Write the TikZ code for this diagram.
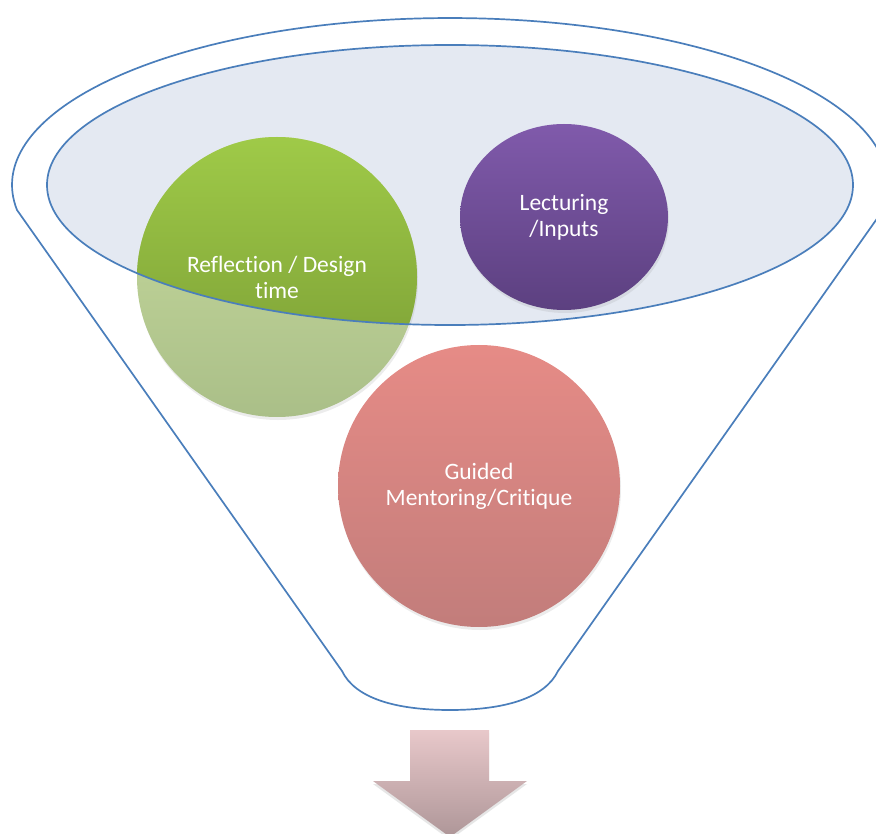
\documentclass[tikz,border=0pt]{standalone}
\usepackage{fontspec}
\setmainfont{Carlito}[Ligatures=NoCommon]
\usetikzlibrary{shapes.geometric,shadows,positioning}
\definecolor{funnelblue}{HTML}{4A7EBB}
\definecolor{bowlfill}{HTML}{E4E9F2}
\definecolor{greentop}{HTML}{9FCA48}
\definecolor{greenbot}{HTML}{779933}
\definecolor{paletop}{HTML}{CADDA0}
\definecolor{palebot}{HTML}{AABF88}
\definecolor{purpletop}{HTML}{805AAB}
\definecolor{purplebot}{HTML}{5C4080}
\definecolor{redtop}{HTML}{E68B86}
\definecolor{redbot}{HTML}{C27D7B}
\definecolor{arrowtop}{HTML}{E8C8CA}
\definecolor{arrowbot}{HTML}{AE9698}
\tikzset{
    funnel/.style={
    draw=funnelblue,line width=1.7pt,line join=round
    },
    bowl/.style={
    fill=bowlfill
    },
    bubble/.style={
    circle,minimum size=280pt,inner sep=0pt,
    drop shadow={opacity=0.15,shadow xshift=1pt,shadow yshift=-3pt}
    },
    caption/.style={
    text=white,align=center,font=\fontsize{23.5}{26}\selectfont
    },
}

\begin{document}
\begin{tikzpicture}[x=1pt,y=1pt]
   \useasboundingbox (0,0) rectangle (876,-834);
   % funnel outline
   \draw[funnel] (17,-210) arc[start angle=188.6, end angle=-8.6, x radius=438, y radius=167]
     -- (558,-671) .. controls (545,-698) and (505,-710) .. (450,-710)
     .. controls (395,-710) and (355,-698) .. (342,-671) -- cycle;
   \fill[bowl] (450,-185) ellipse [x radius=403, y radius=140];

   % bubbles
   \node[bubble,top color=paletop,bottom color=palebot] (refl) at (277,-277) {};
   \begin{scope}
     \clip (450,-185) ellipse [x radius=403, y radius=140];
     \shade[top color=greentop,bottom color=greenbot] (refl.center) circle [radius=140];
   \end{scope}
   \draw[funnel] (450,-185) ellipse [x radius=403, y radius=140];
   \node[caption] (refltext) at (refl.center) {Reflection / Design\\time};

   \node[bubble,ellipse,minimum width=208pt,minimum height=186pt,
     top color=purpletop,bottom color=purplebot,caption] (lect) at (564,-217) {Lecturing\\/Inputs};
   \node[bubble,minimum size=282pt,top color=redtop,bottom color=redbot,caption] (guide) at (479,-486) {Guided\\Mentoring/Critique};

   % outlet arrow
   \shade[top color=arrowtop,bottom color=arrowbot,
     drop shadow={opacity=0.2,shadow xshift=0pt,shadow yshift=-3pt}]
     (410,-730) -- (489,-730) -- (489,-781) -- (527,-781) -- (450,-837)
     -- (373,-781) -- (410,-781) -- cycle;
\end{tikzpicture}
\end{document}
